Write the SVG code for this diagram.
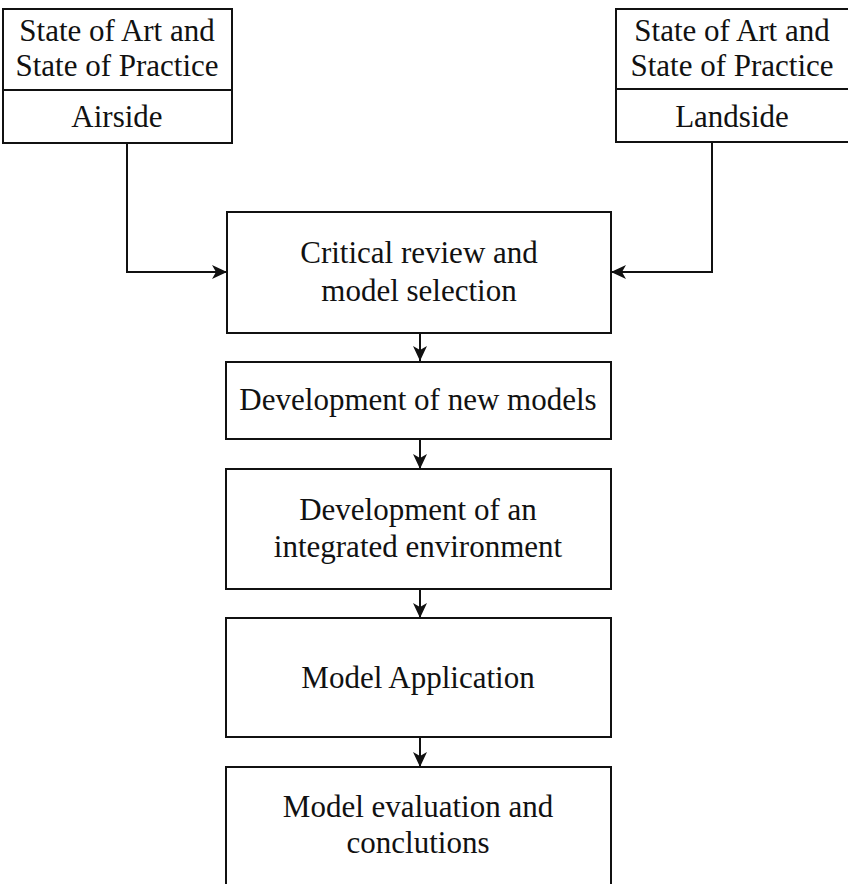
<svg xmlns="http://www.w3.org/2000/svg" width="848" height="884" viewBox="0 0 848 884">
<defs>
<style>
.box{fill:#fff;stroke:#111;stroke-width:2}
.ln{fill:none;stroke:#111;stroke-width:2}
text{font-family:"Liberation Serif","Times New Roman",serif;font-size:31px;fill:#111;text-anchor:middle}
</style>
<marker id="ah" markerWidth="16" markerHeight="14" refX="15" refY="7" orient="auto" markerUnits="userSpaceOnUse">
<path d="M0,0 L15,7 L0,14 L4,7 Z" fill="#111"/>
</marker>
</defs>
<rect width="848" height="884" fill="#fff"/>
<g id="connectors">
<path class="ln" d="M127,143 V272 H227" marker-end="url(#ah)"/>
<path class="ln" d="M712,143 V272 H611" marker-end="url(#ah)"/>
<path class="ln" d="M420,333 V361" marker-end="url(#ah)"/>
<path class="ln" d="M420,439 V469" marker-end="url(#ah)"/>
<path class="ln" d="M420,589 V618" marker-end="url(#ah)"/>
<path class="ln" d="M420,737 V767" marker-end="url(#ah)"/>
</g>
<g id="airside">
<rect class="box" x="3" y="9" width="229" height="134"/>
<line class="ln" x1="3" y1="90" x2="232" y2="90"/>
<text x="117" y="41">State of Art and</text>
<text x="117" y="76">State of Practice</text>
<text x="117" y="127">Airside</text>
</g>
<g id="landside">
<rect class="box" x="616" y="9" width="240" height="133"/>
<line class="ln" x1="616" y1="89" x2="856" y2="89"/>
<text x="732" y="41">State of Art and</text>
<text x="732" y="76">State of Practice</text>
<text x="732" y="127">Landside</text>
</g>
<g id="critical-review">
<rect class="box" x="227" y="212" width="384" height="121"/>
<text x="419" y="263">Critical review and</text>
<text x="419" y="301">model selection</text>
</g>
<g id="new-models">
<rect class="box" x="226" y="362" width="385" height="77"/>
<text x="418" y="410">Development of new models</text>
</g>
<g id="integrated-env">
<rect class="box" x="226" y="469" width="385" height="120"/>
<text x="418" y="520">Development of an</text>
<text x="418" y="557">integrated environment</text>
</g>
<g id="model-application">
<rect class="box" x="226" y="618" width="385" height="119"/>
<text x="418" y="688">Model Application</text>
</g>
<g id="model-evaluation">
<rect class="box" x="226" y="767" width="385" height="140"/>
<text x="418" y="817">Model evaluation and</text>
<text x="418" y="853">conclutions</text>
</g>
</svg>
